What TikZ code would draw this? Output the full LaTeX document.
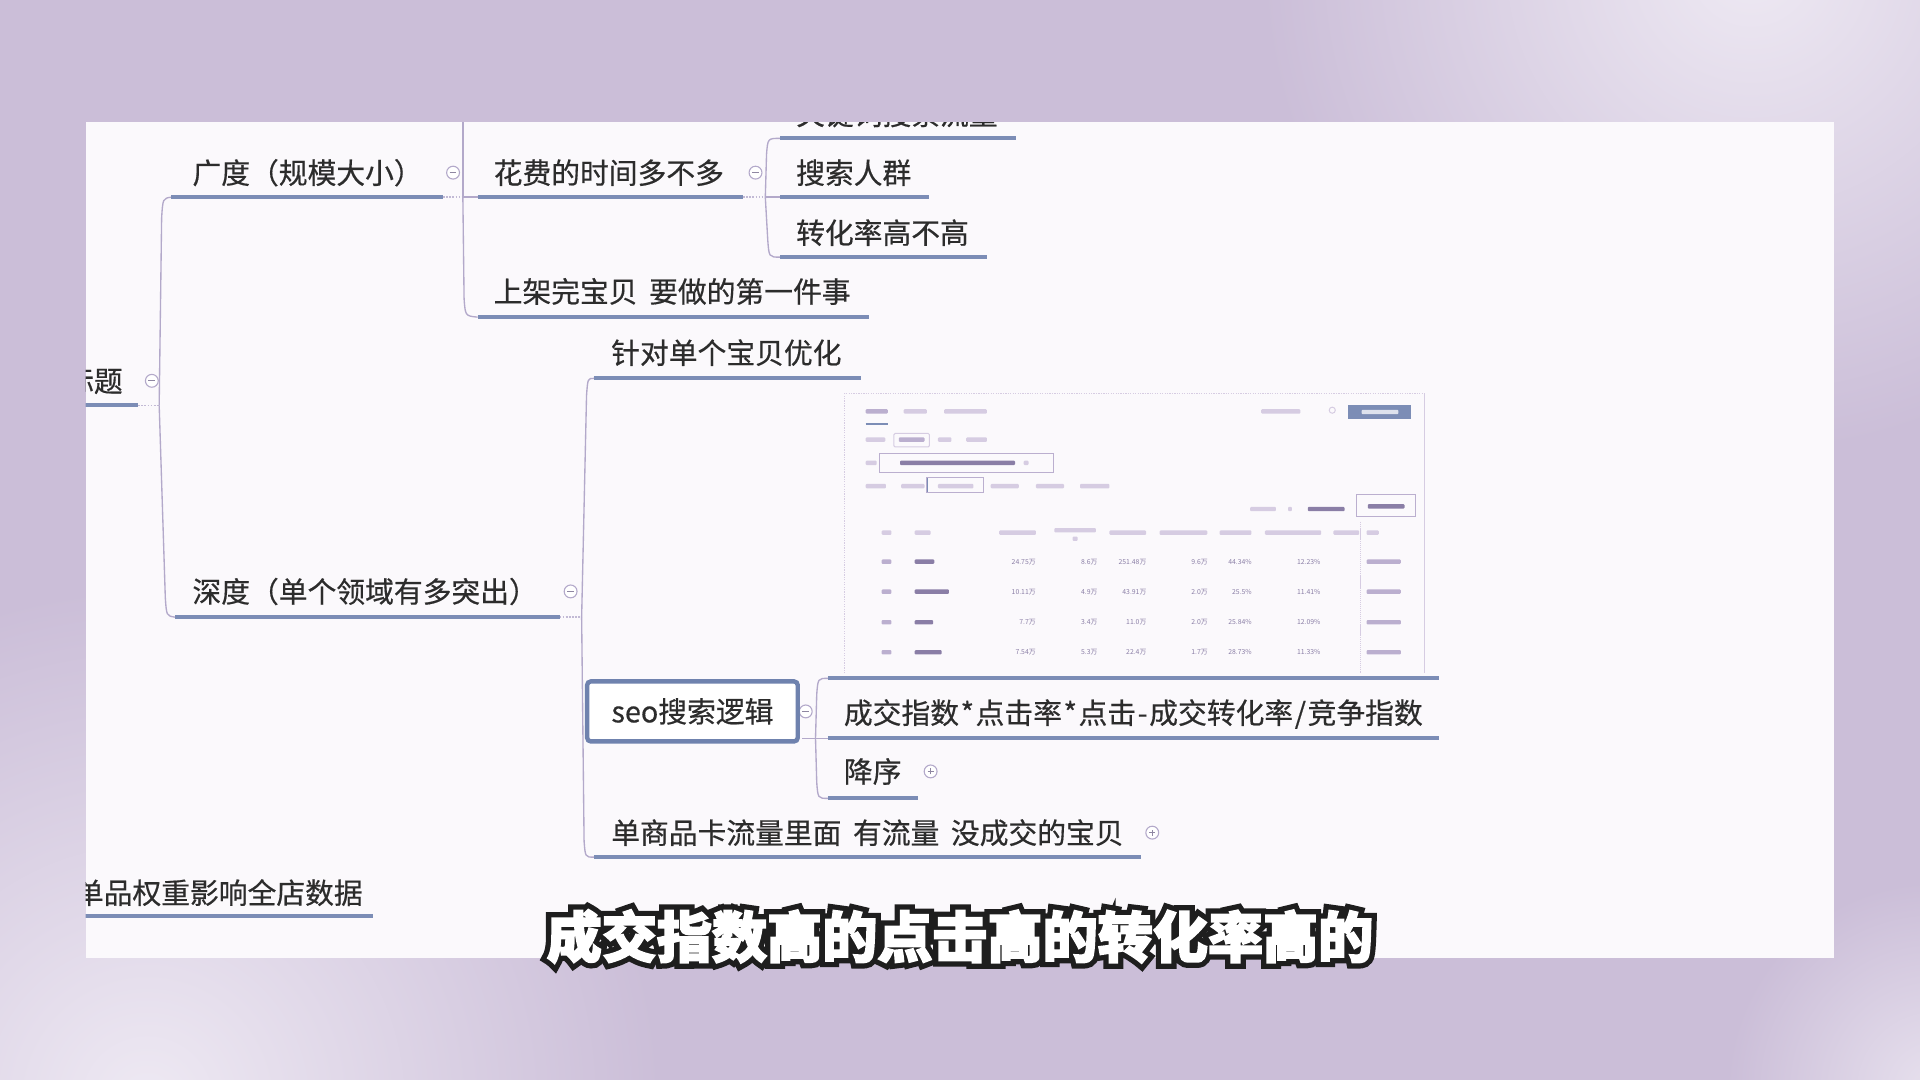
\documentclass[tikz,border=0pt]{standalone}
\usepackage{fontspec}
\setmainfont{Noto Sans CJK SC}
\newfontfamily\topicfont{Noto Sans CJK SC}[FakeBold=0.5, WordSpace=1.8]
\newfontfamily\subfontW{Noto Sans CJK SC}[BoldFeatures={FakeBold=3}]
\newfontfamily\subfontK{Noto Sans CJK SC}[BoldFeatures={FakeBold=22}]
\definecolor{bgl}{HTML}{CBBED8}
\definecolor{bglight}{HTML}{EEE9F3}
\definecolor{panel}{HTML}{FBF9FC}
\definecolor{txt}{HTML}{2C2C2C}
\definecolor{ul}{HTML}{7C8DB6}
\definecolor{cn}{HTML}{B3A9CA}
\definecolor{boxc}{HTML}{6F82AE}
\definecolor{pale}{HTML}{D6CCE2}
\definecolor{mid}{HTML}{BBAFCF}
\definecolor{num}{HTML}{8A7EA6}
\definecolor{subdark}{HTML}{1E1E1E}
\newcommand\foldm[3]{\node[fold] (#1) at (#2,#3) {};
  \draw[foldmark] ([xshift=-2.8pt]#1.center) -- ([xshift=2.8pt]#1.center);}
\newcommand\foldp[3]{\node[fold] (#1) at (#2,#3) {};
  \draw[foldmark] ([xshift=-2.4pt]#1.center) -- ([xshift=2.4pt]#1.center)
                  ([yshift=-2.4pt]#1.center) -- ([yshift=2.4pt]#1.center);}
\newcommand\pbar[4][pale]{\fill[#1, rounded corners=0.8pt] (#2,#4-1.8) rectangle (#3,#4+1.8);}
\newcommand\sym[1]{\hspace{1.3pt}#1\hspace{1.3pt}}
\tikzset{
  topic/.style={anchor=base west, inner sep=0pt, text=txt, font=\topicfont\fontsize{23.5}{28}\selectfont},
  uline/.style={line width=3.2pt, draw=ul},
  conn/.style={line width=1.1pt, draw=cn},
  dotconn/.style={line width=1.1pt, draw=cn!80, dash pattern=on 1.5pt off 1pt},
  fold/.style={circle, draw=cn, fill=white, line width=0.9pt, minimum size=10.5pt, inner sep=0pt},
  foldmark/.style={draw=cn!80!black, line width=0.9pt},
  numtxt/.style={anchor=east, inner sep=0pt, text=num, font=\fontsize{5.6}{6}\selectfont},
}
\begin{document}
\begin{tikzpicture}[x=1pt,y=-1pt]
\useasboundingbox (0,0) rectangle (1568,882);
% background
\fill[bgl] (0,0) rectangle (1568,882);
\begin{scope}
  \clip (0,0) rectangle (1568,882);
  \shade[inner color=bglight, outer color=bgl] (1430,-30) circle (400pt);
  \shade[inner color=bglight, outer color=bgl] (120,900) circle (420pt);
  \shade[inner color=bglight!80!bgl, outer color=bgl] (1580,890) circle (170pt);
\end{scope}
\fill[panel] (70,100) rectangle (1498,782);

\begin{scope}
\clip (70,100) rectangle (1498,782);

% ---------- root ----------
\node[topic] (root) at (53,320) {标题};
\coordinate (rootR) at (113,331);
\coordinate (rootJ) at (130,331);
\draw[uline] (40,331) -- (rootR);
\draw[dotconn] (rootR) -- (rootJ);
\coordinate (gL) at (140,161);
\coordinate (gR) at (362,161);
\coordinate (dL) at (143,504);
\coordinate (dR) at (457,504);
\draw[conn] (rootJ) -- (132,178) .. controls (133,162) .. (gL);
\draw[conn] (rootJ) -- (135,488) .. controls (136,503) .. (dL);
\foldm{rootF}{124}{311}

% ---------- 广度 ----------
\node[topic] (g) at (157,150) {广度（规模大小）};
\draw[uline] (gL) -- (gR);
\coordinate (gJ) at (378,161);
\coordinate (hL) at (390,161);
\coordinate (hR) at (607,161);
\coordinate (sL) at (390,259);
\coordinate (sR) at (710,259);
\coordinate (gTop) at (378,40);
\draw[dotconn] (gR) -- (gJ);
\draw[conn] (gTop) -- (gJ) -- (hL);
\draw[conn] (gJ) -- (379,244) .. controls (380,258) .. (sL);
\foldm{gF}{370}{141}

\node[topic] (h) at (403,150) {花费的时间多不多};
\draw[uline] (hL) -- (hR);
\coordinate (hJ) at (625,161);
\coordinate (kL) at (637,113);
\coordinate (kR) at (830,113);
\coordinate (qL) at (637,161);
\coordinate (qR) at (759,161);
\coordinate (zL) at (637,210);
\coordinate (zR) at (806,210);
\draw[dotconn] (hR) -- (hJ);
\draw[conn] (hJ) -- (626,126) .. controls (627,113) .. (kL);
\draw[conn] (hJ) -- (qL);
\draw[conn] (hJ) -- (627,196) .. controls (628,210) .. (zL);
\foldm{hF}{617}{141}

\node[topic] (k) at (650,102) {关键词搜索流量};
\draw[uline] (kL) -- (kR);
\node[topic] (q) at (650,150) {搜索人群};
\draw[uline] (qL) -- (qR);
\node[topic] (z) at (650,199) {转化率高不高};
\draw[uline] (zL) -- (zR);

\node[topic] (s) at (403,247) {上架完宝贝 要做的第一件事};
\draw[uline] (sL) -- (sR);

% ---------- 深度 ----------
\node[topic] (d) at (157,492) {深度（单个领域有多突出）};
\draw[uline] (dL) -- (dR);
\coordinate (dJ) at (475,504);
\coordinate (aL) at (485,309);
\coordinate (aR) at (703,309);
\coordinate (uL) at (485,700);
\coordinate (uR) at (932,700);
\draw[dotconn] (dR) -- (dJ);
\draw[conn] (dJ) -- (479,323) .. controls (480,309) .. (aL);
\draw[conn] (dJ) -- (477,687) .. controls (478,700) .. (uL);
\foldm{dF}{466}{483}

\node[topic] (a) at (499,297) {针对单个宝贝优化};
\draw[uline] (aL) -- (aR);

% seo box and its children
\coordinate (seoB) at (655,603);
\coordinate (seoJ) at (666,603);
\coordinate (imgL) at (676,554);
\coordinate (imgR) at (1175,554);
\coordinate (cL) at (676,603);
\coordinate (cR) at (1175,603);
\coordinate (eL) at (676,652);
\coordinate (eR) at (750,652);
\draw[conn] (seoB) -- (cL);
\draw[conn] (seoJ) -- (667,567) .. controls (668,554) .. (imgL);
\draw[conn] (seoJ) -- (667,639) .. controls (668,652) .. (eL);
\foldm{seoF}{658}{581}
\node[draw=boxc, line width=3.6pt, rounded corners=3pt, fill=white,
      minimum width=172pt, minimum height=49pt, inner sep=0pt, text=txt,
      font=\topicfont\fontsize{23.5}{28}\selectfont] (seo) at (565.5,581) {seo搜索逻辑};

\draw[uline] (imgL) -- (imgR);
\node[topic] (c) at (689,591) {成交指数\sym{*}点击率\sym{*}点击\sym{-}成交转化率\sym{/}竞争指数};
\draw[uline] (cL) -- (cR);
\node[topic] (e) at (689,639) {降序};
\draw[uline] (eL) -- (eR);
\foldp{eF}{760}{630}

\node[topic] (u) at (499,689) {单商品卡流量里面 有流量 没成交的宝贝};
\draw[uline] (uL) -- (uR);
\foldp{uF}{941}{680}

% ---------- bottom-left ----------
\node[topic] (w) at (61,738) {单品权重影响全店数据};
\draw[uline] (40,748) -- (305,748);

% ---------- embedded screenshot ----------
\draw[pale, line width=0.8pt, dash pattern=on 1pt off 1pt] (690,550) -- (690,321) -- (1163,321);
\draw[pale, line width=0.8pt] (1163,321) -- (1163,550);
% tabs
\pbar[mid]{707}{725}{336} \pbar{738}{757}{336} \pbar{771}{806}{336}
\draw[ul, line width=1.5pt] (707,346) -- (725,346);
\pbar{1030}{1062}{336}
\draw[pale, line width=0.8pt] (1088,335) circle (2.5pt);
\fill[ul] (1101,331) rectangle (1152,342);
\pbar[white!75!ul]{1112}{1142}{336.5}
% row 2
\pbar{707}{723}{359}
\draw[pale, line width=0.8pt, rounded corners=1pt] (730,354) rectangle (759,365);
\pbar[mid]{734}{755}{359} \pbar{766}{777}{359} \pbar{789}{806}{359}
% row 3
\pbar{707}{716}{378}
\draw[mid, line width=0.8pt] (718,370) rectangle (860.5,385.5);
\pbar[num]{735}{829}{378} \pbar{836}{840}{378}
% row 4
\pbar{707}{723.5}{397} \pbar{736}{755}{397}
\draw[mid, line width=0.8pt] (757,390) rectangle (803,402.5);
\draw[ul, line width=1.2pt] (757.5,390.5) -- (757.5,402);
\pbar{766}{795}{397} \pbar{809}{832}{397} \pbar{846}{869}{397} \pbar{882}{906}{397}
% row 5
\pbar{1021}{1042}{415.7} \pbar{1052}{1055}{415.7} \pbar[num]{1068}{1098}{415.7}
\draw[mid, line width=0.8pt] (1108,404) rectangle (1156,422);
\pbar[num]{1117}{1147}{413.5}
% header
\pbar{720}{728}{435} \pbar{747}{760}{435} \pbar{816}{846}{435}
\pbar{861}{895}{433} \pbar{876}{880}{440}
\pbar{906}{936}{435} \pbar{947}{986}{435} \pbar{996}{1022}{435}
\pbar{1033}{1079}{435} \pbar{1089}{1110}{435} \pbar{1116}{1126}{435}
\draw[pale, line width=0.8pt, dash pattern=on 1pt off 0.6pt] (1111,426) -- (1111,550);
% data rows
\foreach \y/\wd in {458.7/763, 483.2/775, 508.2/762, 532.7/769}{
  \pbar[mid]{720}{728}{\y}
  \pbar[num]{747}{\wd}{\y}
  \pbar[mid]{1116}{1144}{\y}
}
\foreach \y/\va/\vb/\vc/\vd/\ve/\vf [count=\r] in
  {458.7/24.75万/8.6万/251.48万/9.6万/44.34\%/12.23\%,
   483.2/10.11万/4.9万/43.91万/2.0万/25.5\%/11.41\%,
   508.2/7.7万/3.4万/11.0万/2.0万/25.84\%/12.09\%,
   532.7/7.54万/5.3万/22.4万/1.7万/28.73\%/11.33\%}{
  \node[numtxt] (n\r-1) at (846,\y) {\va};
  \node[numtxt] (n\r-2) at (896.5,\y) {\vb};
  \node[numtxt] (n\r-3) at (936.4,\y) {\vc};
  \node[numtxt] (n\r-4) at (986.5,\y) {\vd};
  \node[numtxt] (n\r-5) at (1022.5,\y) {\ve};
  \node[numtxt] (n\r-6) at (1078.6,\y) {\vf};
}
\end{scope}

% ---------- subtitle ----------
\node[anchor=base, inner sep=0pt, text=subdark, font=\subfontK\bfseries\fontsize{45}{50}\selectfont] (subo) at (784,782) {成交指数高的点击高的转化率高的};
\node[anchor=base, inner sep=0pt, text=white, font=\subfontW\bfseries\fontsize{45}{50}\selectfont] (sub) at (784,782) {成交指数高的点击高的转化率高的};
\end{tikzpicture}
\end{document}
